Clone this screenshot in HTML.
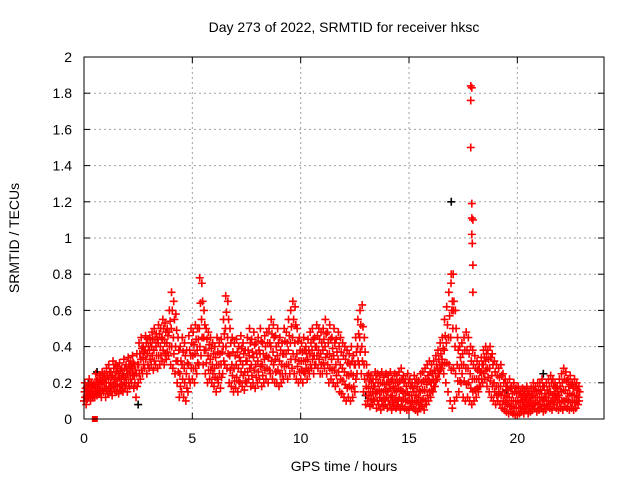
<!DOCTYPE html>
<html><head><meta charset="utf-8"><style>
body{margin:0;background:#fff}
svg{display:block;font-family:"Liberation Sans",sans-serif}
</style></head><body>
<svg id="chart" width="640" height="480" viewBox="0 0 640 480" xmlns="http://www.w3.org/2000/svg">
<rect width="640" height="480" fill="#fff"/>
<text x="344" y="32" font-size="14" text-anchor="middle">Day 273 of 2022, SRMTID for receiver hksc</text>
<text x="344" y="471" font-size="14" text-anchor="middle">GPS time / hours</text>
<text transform="translate(19,238) rotate(-90)" font-size="14" text-anchor="middle">SRMTID / TECUs</text>
<g id="grid"></g>
<g id="marks"></g>
<rect x="84" y="57" width="520" height="362" fill="none" stroke="#000" stroke-width="1"/>
</svg>
<script>
const xTicks=[0,5,10,15,20];
const yTicks=[0,0.2,0.4,0.6,0.8,1,1.2,1.4,1.6,1.8,2];
const yTickLabels=["0","0.2","0.4","0.6","0.8","1","1.2","1.4","1.6","1.8","2"];
const step=0.1;
const hiVals=[.2,.18,.22,.2,.19,.25,.22,.24,.26,.25,
.28,.3,.26,.32,.3,.29,.31,.28,.33,.3,
.34,.32,.35,.3,.36,.42,.45,.4,.46,.44,
.45,.48,.5,.47,.52,.5,.55,.53,.5,.6,
.7,.65,.58,.45,.4,.45,.42,.38,.46,.5,
.48,.52,.5,.78,.75,.6,.5,.48,.45,.42,
.4,.45,.42,.44,.55,.68,.65,.5,.45,.42,
.44,.4,.46,.42,.38,.45,.5,.44,.48,.42,
.45,.5,.42,.46,.48,.5,.55,.52,.46,.5,
.45,.42,.5,.48,.55,.6,.65,.62,.5,.45,
.42,.45,.4,.44,.48,.5,.45,.52,.5,.48,
.5,.55,.48,.52,.45,.5,.44,.48,.45,.42,
.4,.38,.36,.4,.35,.45,.55,.6,.63,.45,
.3,.25,.24,.22,.26,.25,.24,.26,.23,.25,
.24,.26,.22,.25,.24,.26,.28,.24,.22,.25,
.22,.2,.24,.22,.21,.25,.26,.28,.3,.32,
.3,.32,.35,.38,.42,.45,.55,.62,.7,.75,
.8,.6,.45,.4,.42,.45,.48,.45,.4,.38,
.35,.32,.3,.34,.38,.4,.38,.4,.36,.32,
.3,.28,.3,.25,.22,.2,.22,.18,.2,.17,
.18,.15,.17,.16,.18,.15,.17,.2,.18,.2,
.2,.22,.18,.2,.22,.24,.22,.2,.18,.22,
.25,.28,.26,.22,.24,.2,.22,.2,.18];
const q3Vals=[.17,.16,.19,.18,.17,.21,.2,.21,.23,.22,
.24,.26,.23,.28,.26,.25,.27,.25,.28,.27,
.3,.29,.31,.27,.3,.36,.39,.37,.42,.4,
.42,.44,.44,.44,.47,.45,.5,.48,.46,.54,
.6,.55,.49,.38,.32,.37,.35,.31,.38,.42,
.41,.44,.44,.64,.65,.52,.44,.41,.39,.36,
.34,.37,.36,.37,.47,.59,.55,.42,.37,.35,
.37,.34,.39,.36,.32,.38,.42,.37,.41,.36,
.38,.43,.36,.4,.42,.42,.47,.45,.4,.42,
.38,.36,.43,.42,.46,.51,.55,.52,.43,.38,
.37,.38,.36,.38,.42,.44,.4,.46,.44,.42,
.44,.47,.42,.44,.39,.42,.37,.4,.37,.35,
.33,.31,.3,.32,.3,.37,.47,.52,.51,.37,
.24,.21,.2,.18,.22,.2,.2,.2,.19,.2,
.2,.21,.18,.2,.2,.21,.22,.2,.18,.2,
.18,.17,.2,.18,.16,.2,.21,.22,.24,.26,
.25,.27,.3,.33,.36,.39,.46,.52,.57,.6,
.65,.5,.38,.34,.36,.38,.38,.36,.32,.3,
.28,.27,.26,.3,.34,.36,.33,.34,.3,.26,
.24,.23,.24,.2,.18,.16,.17,.14,.15,.14,
.14,.12,.13,.12,.14,.12,.13,.16,.15,.16,
.16,.18,.14,.16,.18,.2,.18,.17,.15,.18,
.2,.22,.21,.18,.19,.17,.18,.16,.15];
const midVals=[.15,.13,.16,.15,.14,.18,.17,.19,.2,.2,
.2,.22,.2,.24,.22,.21,.23,.22,.24,.23,
.25,.26,.28,.24,.25,.3,.33,.34,.38,.36,
.38,.4,.38,.4,.42,.4,.44,.42,.42,.48,
.5,.45,.4,.32,.25,.3,.28,.25,.3,.35,
.35,.36,.38,.5,.55,.45,.38,.35,.33,.3,
.28,.3,.3,.3,.4,.5,.45,.35,.3,.28,
.3,.28,.32,.3,.26,.32,.35,.3,.34,.3,
.32,.36,.3,.33,.35,.34,.4,.37,.33,.35,
.32,.3,.36,.36,.38,.42,.45,.42,.36,.32,
.32,.32,.32,.33,.36,.38,.35,.4,.38,.36,
.38,.4,.36,.36,.33,.35,.3,.33,.3,.28,
.26,.24,.24,.25,.24,.3,.4,.45,.4,.3,
.18,.17,.15,.15,.18,.15,.16,.15,.15,.16,
.15,.17,.13,.16,.15,.17,.16,.15,.14,.15,
.13,.13,.15,.13,.12,.15,.16,.16,.19,.21,
.2,.22,.25,.28,.3,.33,.38,.42,.45,.45,
.5,.4,.3,.28,.3,.3,.28,.28,.25,.22,
.22,.22,.22,.26,.3,.32,.28,.28,.24,.2,
.18,.18,.18,.15,.13,.12,.12,.1,.1,.1,
.1,.09,.1,.09,.11,.09,.1,.12,.12,.12,
.12,.14,.11,.12,.14,.15,.13,.14,.12,.13,
.15,.16,.16,.14,.14,.13,.13,.13,.12];
const q1Vals=[.12,.11,.14,.13,.13,.15,.15,.16,.16,.17,
.16,.18,.17,.19,.19,.18,.18,.19,.2,.2,
.2,.22,.24,.2,.18,.25,.27,.3,.33,.3,
.33,.35,.32,.35,.35,.35,.38,.36,.37,.4,
.4,.36,.32,.26,.18,.22,.2,.17,.22,.28,
.28,.28,.31,.4,.45,.38,.31,.27,.27,.25,
.23,.22,.25,.23,.32,.4,.36,.27,.24,.21,
.23,.21,.26,.24,.21,.26,.28,.24,.27,.23,
.26,.29,.24,.27,.28,.27,.32,.3,.26,.27,
.25,.25,.29,.3,.3,.33,.36,.33,.29,.26,
.27,.26,.28,.27,.3,.33,.3,.35,.33,.3,
.31,.34,.3,.28,.27,.27,.24,.26,.22,.21,
.19,.17,.18,.17,.18,.22,.32,.37,.32,.22,
.13,.13,.11,.11,.14,.1,.12,.1,.11,.12,
.1,.12,.09,.11,.1,.12,.1,.11,.1,.1,
.09,.1,.1,.09,.08,.1,.11,.1,.13,.15,
.16,.18,.21,.25,.27,.3,.31,.31,.3,.27,
.28,.25,.21,.21,.25,.21,.19,.2,.17,.15,
.16,.17,.18,.22,.25,.27,.23,.21,.18,.15,
.13,.14,.13,.1,.09,.08,.07,.07,.06,.06,
.06,.06,.07,.06,.08,.06,.07,.08,.09,.08,
.08,.1,.07,.08,.1,.1,.09,.11,.09,.09,
.1,.1,.11,.1,.09,.09,.09,.1,.1];
const loVals=[.1,.08,.12,.1,.12,.12,.13,.14,.12,.15,
.12,.14,.15,.13,.16,.15,.14,.16,.15,.17,
.15,.18,.2,.17,.12,.2,.22,.25,.28,.25,
.28,.3,.27,.3,.28,.3,.32,.3,.33,.35,
.3,.28,.25,.2,.12,.15,.12,.1,.15,.2,
.22,.2,.25,.3,.35,.3,.25,.2,.22,.2,
.18,.15,.2,.17,.25,.3,.28,.2,.18,.15,
.17,.15,.2,.18,.16,.2,.22,.18,.2,.17,
.2,.22,.18,.2,.22,.2,.25,.22,.2,.2,
.18,.2,.22,.25,.22,.25,.28,.25,.22,.2,
.22,.2,.25,.22,.25,.28,.25,.3,.28,.25,
.25,.28,.25,.2,.22,.2,.18,.2,.15,.14,
.12,.1,.12,.1,.12,.15,.25,.3,.25,.15,
.08,.1,.07,.08,.1,.06,.08,.05,.07,.08,
.06,.08,.05,.07,.06,.08,.05,.07,.06,.05,
.05,.07,.06,.05,.04,.06,.07,.05,.08,.1,
.12,.15,.18,.22,.25,.28,.25,.2,.15,.1,
.06,.1,.12,.15,.2,.12,.1,.12,.1,.08,
.1,.12,.15,.18,.2,.22,.18,.15,.12,.1,
.08,.1,.08,.06,.05,.04,.03,.04,.03,.02,
.02,.03,.04,.03,.05,.03,.04,.05,.06,.04,
.05,.06,.04,.05,.07,.06,.05,.08,.06,.05,
.06,.05,.07,.06,.05,.06,.05,.06,.08];
const spikeTimes=[17.85,17.9,17.85,17.85,17.9,17.9,17.95,17.9,17.92,17.95,17.95,16.95,17.0,17.05];
const spikeVals=[1.84,1.83,1.76,1.5,1.19,1.11,1.1,1.02,0.97,0.85,0.7,0.8,0.65,0.6];
const blackTimes=[16.95,0.2,2.5,13.0,19.5,21.2,0.6];
const blackVals=[1.2,0.2,0.08,0.13,0.16,0.25,0.26];

const X0=84,X1=604,Y0=419,Y1=57,XMAX=24,YMAX=2;
const xs=v=>X0+v/XMAX*(X1-X0);
const ys=v=>Y0-v/YMAX*(Y0-Y1);
const NS="http://www.w3.org/2000/svg";
const grid=document.getElementById('grid'),marks=document.getElementById('marks');
function mk(tag,attrs,parent){const e=document.createElementNS(NS,tag);for(const k in attrs)e.setAttribute(k,attrs[k]);parent.appendChild(e);return e;}
yTicks.forEach((v,i)=>{const y=ys(v);
 if(v>0&&v<YMAX){const g=mk('line',{x1:X0,x2:X1,y1:y,y2:y,stroke:'#a0a0a0','stroke-dasharray':'2,3'},grid);
 
 }
 const t=mk('line',{x1:X0,x2:X0+6,y1:y,y2:y,stroke:'#000'},grid);
 
 
 const t2=mk('line',{x1:X1-6,x2:X1,y1:y,y2:y,stroke:'#000'},grid);
 
 
 const l=mk('text',{x:X0-12,y:y+5,'font-size':14,'text-anchor':'end'},grid);l.textContent=yTickLabels[i];
 
 
});
xTicks.forEach(v=>{const x=xs(v);
 if(v>0){const g=mk('line',{x1:x,x2:x,y1:Y0,y2:Y1,stroke:'#a0a0a0','stroke-dasharray':'2,3'},grid);
 
 }
 const t=mk('line',{x1:x,x2:x,y1:Y0,y2:Y0-6,stroke:'#000'},grid);
 
 
 const t2=mk('line',{x1:x,x2:x,y1:Y1,y2:Y1+6,stroke:'#000'},grid);
 
 
 const l=mk('text',{x:x,y:Y0+24,'font-size':14,'text-anchor':'middle'},grid);l.textContent=String(v);
 
 
});
function plus(t,v,color,name){const x=xs(t),y=ys(v);
 const p=mk('path',{d:`M${x-4},${y}h8M${x},${y-4}v8`,stroke:color,'stroke-width':1.6,fill:'none'},marks);
 
 
}
blackTimes.forEach((t,i)=>plus(t,blackVals[i],'#000','black-point'));
const offsets=[0,0.05,0.025,0.075,0.04];
[loVals,q1Vals,midVals,q3Vals,hiVals].forEach((arr,k)=>arr.forEach((v,i)=>{plus(i*step+offsets[k],v,'#f00','red-point');}));
spikeTimes.forEach((t,i)=>plus(t,spikeVals[i],'#f00','spike-point'));
const sq=mk('rect',{x:xs(0.5)-3,y:Y0-3,width:6,height:6,fill:'#f00'},marks);


</script>
</body></html>
